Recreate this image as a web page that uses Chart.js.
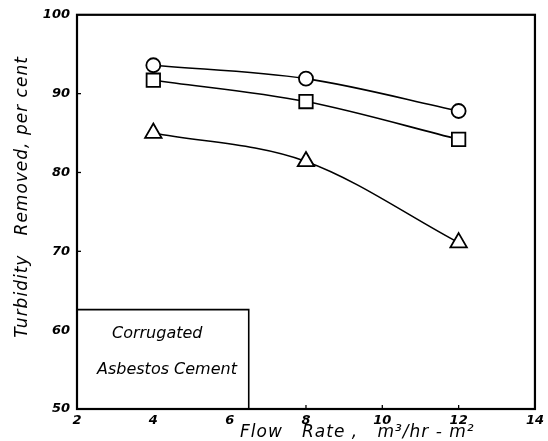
<!DOCTYPE html>
<html>
<head>
<meta charset="utf-8">
<script src="https://cdn.jsdelivr.net/npm/chart.js@4/dist/chart.umd.min.js"></script>
<style>
    html, body { margin: 0; padding: 0; background: #fff; }
    #wrap { width: 548px; height: 441px; }
</style>
</head>
<body>
<div id="wrap"><canvas id="turbidityChart" width="548" height="441"></canvas></div>
<script>
// values
const flowRates = [4, 8, 12];
const circleSeries = [93.6, 91.9, 87.8];
const squareSeries = [91.7, 89.0, 84.2];
const triangleSeries = [85.0, 81.4, 71.1];
const xTicks = [2, 4, 6, 8, 10, 12, 14];
const yTicks = [50, 60, 70, 80, 90, 100];
const insetLines = ['Corrugated', 'Asbestos Cement'];
const xTitle = 'Flow   Rate ,   m\u00B3/hr - m\u00B2';
const yTitle = 'Turbidity   Removed, per cent';

const handFont = "'DejaVu Sans', sans-serif";

function toPoints(values) {
    return flowRates.map((x, i) => ({ x: x, y: values[i] }));
}

function makeSeries(values, style) {
    let r = 7;
    if (style === 'rect') r = 9.5;
    if (style === 'triangle') r = 9.5;
    return {
        data: toPoints(values),
        borderColor: '#000',
        borderWidth: 1.6,
        backgroundColor: '#fff',
        pointStyle: style,
        pointRadius: r,
        pointBorderWidth: 1.8,
        pointBorderColor: '#000',
        pointBackgroundColor: '#fff',
        cubicInterpolationMode: 'monotone',
        fill: false
    };
}

// frame, inward tick marks, the label box and the axis titles
const framePlugin = {
    id: 'frame',
    afterDatasetsDraw: function (chart) {
        const ctx = chart.ctx;
        const area = chart.chartArea;
        const xs = chart.scales.x;
        const ys = chart.scales.y;
        ctx.save();
        ctx.strokeStyle = '#000';

        ctx.lineWidth = 1.3;
        xTicks.slice(1, -1).forEach(v => {
            const px = xs.getPixelForValue(v);
            ctx.beginPath();
            ctx.moveTo(px, area.bottom);
            ctx.lineTo(px, area.bottom - 4);
            ctx.stroke();
        });
        yTicks.slice(1, -1).forEach(v => {
            const py = ys.getPixelForValue(v);
            ctx.beginPath();
            ctx.moveTo(area.left, py);
            ctx.lineTo(area.left + 4, py);
            ctx.stroke();
        });

        // inset label box
        const bx = xs.getPixelForValue(6.5);
        const by = ys.getPixelForValue(62.6);
        ctx.fillStyle = '#fff';
        ctx.fillRect(area.left, by, bx - area.left, area.bottom - by);
        ctx.lineWidth = 1.6;
        ctx.beginPath();
        ctx.moveTo(area.left, by);
        ctx.lineTo(bx, by);
        ctx.lineTo(bx, area.bottom);
        ctx.stroke();

        ctx.fillStyle = '#000';
        ctx.font = 'italic 16px ' + handFont;
        ctx.textBaseline = 'middle';
        ctx.textAlign = 'left';
        ctx.fillText(insetLines[0], 112, 334);
        ctx.fillText(insetLines[1], 97, 370);

        ctx.lineWidth = 2.2;
        ctx.strokeRect(area.left, area.top, area.right - area.left, area.bottom - area.top);

        // axis titles
        ctx.font = 'italic 17px ' + handFont;
        ctx.letterSpacing = '1px';
        ctx.textAlign = 'left';
        ctx.textBaseline = 'alphabetic';
        ctx.fillText(xTitle, 240, 437);

        ctx.translate(27, 197);
        ctx.rotate(-Math.PI / 2);
        ctx.textAlign = 'center';
        ctx.fillText(yTitle, 0, 0);
        ctx.restore();
    }
};

new Chart(document.getElementById('turbidityChart'), {
    type: 'line',
    data: {
        datasets: [
            makeSeries(circleSeries, 'circle'),
            makeSeries(squareSeries, 'rect'),
            makeSeries(triangleSeries, 'triangle')
        ]
    },
    options: {
        responsive: false,
        animation: false,
        layout: { padding: { top: 12, right: 13, left: 0, bottom: 0 } },
        plugins: {
            legend: { display: false },
            tooltip: { enabled: false }
        },
        scales: {
            x: {
                type: 'linear',
                min: 2,
                max: 14,
                afterBuildTicks: function (scale) {
                    scale.ticks = xTicks.map(v => ({ value: v }));
                },
                afterFit: function (scale) { scale.height = 32; },
                grid: { display: false, drawTicks: false },
                border: { display: false },
                ticks: {
                    padding: 4,
                    color: '#000',
                    font: { family: handFont, size: 13, style: 'italic', weight: 'bold' }
                }
            },
            y: {
                type: 'linear',
                min: 50,
                max: 100,
                afterBuildTicks: function (scale) {
                    scale.ticks = yTicks.map(v => ({ value: v }));
                },
                afterFit: function (scale) { scale.width = 77; },
                grid: { display: false, drawTicks: false },
                border: { display: false },
                ticks: {
                    padding: 7,
                    color: '#000',
                    font: { family: handFont, size: 13, style: 'italic', weight: 'bold' }
                }
            }
        }
    },
    plugins: [framePlugin]
});
</script>
</body>
</html>
